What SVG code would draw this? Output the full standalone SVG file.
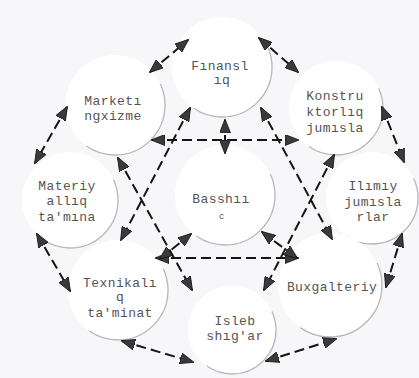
<svg xmlns="http://www.w3.org/2000/svg" width="419" height="378" viewBox="0 0 419 378">
<defs>
<style>
.bg{fill:#f7f7f9}
.node circle{fill:#ffffff;stroke:none}
.node .rim{fill:none;stroke:#b8b8bc;stroke-width:1.3;stroke-dasharray:150 210;stroke-dashoffset:25}
.node text{font-family:"Liberation Mono","DejaVu Sans Mono",monospace;font-size:13px;letter-spacing:0.4px;fill:#555555;text-anchor:middle}
.node text.mark{font-size:9px}
.edges line{stroke:#151515;stroke-width:2;stroke-dasharray:10 5;fill:none}
</style>
<marker id="ah" viewBox="0 0 14 11" refX="13" refY="5.5" markerWidth="14" markerHeight="11" markerUnits="userSpaceOnUse" orient="auto-start-reverse">
<path d="M0,0 L14,5.5 L0,11 z" fill="#3a3a3a" stroke="#111" stroke-width="0.8"/>
</marker>
</defs>
<rect class="bg" x="0" y="0" width="419" height="378"/>

<g id="finansliq" class="node">
<circle cx="222" cy="67" r="50"/>
<circle class="rim" cx="222" cy="67" r="50" pathLength="360"/>
<text x="220" y="70">Fınansl</text>
<text x="222" y="84">ıq</text>
</g>
<g id="marketing" class="node">
<circle cx="115" cy="105" r="50"/>
<circle class="rim" cx="115" cy="105" r="50" pathLength="360"/>
<text x="113" y="105">Marketı</text>
<text x="113" y="120">ngxizme</text>
</g>
<g id="konstruktorliq" class="node">
<circle cx="336" cy="108" r="47"/>
<circle class="rim" cx="336" cy="108" r="47" pathLength="360"/>
<text x="335" y="100">Konstru</text>
<text x="335" y="116">ktorlıq</text>
<text x="335" y="132">jumısla</text>
</g>
<g id="materiyalliq" class="node">
<circle cx="70" cy="200" r="48"/>
<circle class="rim" cx="70" cy="200" r="48" pathLength="360"/>
<text x="67" y="190">Materiy</text>
<text x="67" y="205">allıq</text>
<text x="67" y="221">ta'mına</text>
</g>
<g id="basshiliq" class="node">
<circle cx="225" cy="195" r="50"/>
<circle class="rim" cx="225" cy="195" r="50" pathLength="360"/>
<text x="221" y="203">Basshıı</text>
<text class="mark" x="222" y="219">c</text>
</g>
<g id="ilimiy" class="node">
<circle cx="372" cy="198" r="46"/>
<circle class="rim" cx="372" cy="198" r="46" pathLength="360"/>
<text x="373" y="190">Ilımıy</text>
<text x="373" y="206">jumısla</text>
<text x="373" y="221">rlar</text>
</g>
<g id="texnikaliq" class="node">
<circle cx="118" cy="290" r="50"/>
<circle class="rim" cx="118" cy="290" r="50" pathLength="360"/>
<text x="120" y="287">Texnikalı</text>
<text x="120" y="301">q</text>
<text x="120" y="317">ta'minat</text>
</g>
<g id="buxgalteriy" class="node">
<circle cx="330" cy="285" r="52"/>
<circle class="rim" cx="330" cy="285" r="52" pathLength="360"/>
<text x="332" y="291">Buxgalteriy</text>
</g>
<g id="islebshigar" class="node">
<circle cx="232" cy="330" r="44"/>
<circle class="rim" cx="232" cy="330" r="44" pathLength="360"/>
<text x="235" y="325">Isleb</text>
<text x="235" y="340">shıg'ar</text>
</g>

<g id="connectors" class="edges">
<line x1="150" y1="72" x2="188" y2="40" marker-start="url(#ah)" marker-end="url(#ah)"/>
<line x1="259" y1="38" x2="298" y2="72" marker-start="url(#ah)" marker-end="url(#ah)"/>
<line x1="67" y1="107" x2="35" y2="163" marker-start="url(#ah)" marker-end="url(#ah)"/>
<line x1="382" y1="107" x2="404" y2="162" marker-start="url(#ah)" marker-end="url(#ah)"/>
<line x1="37" y1="234" x2="70" y2="291" marker-start="url(#ah)" marker-end="url(#ah)"/>
<line x1="402" y1="234" x2="386" y2="287" marker-start="url(#ah)" marker-end="url(#ah)"/>
<line x1="122" y1="341" x2="193" y2="362" marker-start="url(#ah)" marker-end="url(#ah)"/>
<line x1="266" y1="361" x2="336" y2="339" marker-start="url(#ah)" marker-end="url(#ah)"/>
<line x1="152" y1="140" x2="298" y2="140" marker-start="url(#ah)" marker-end="url(#ah)"/>
<line x1="225" y1="120" x2="225" y2="153" marker-start="url(#ah)" marker-end="url(#ah)"/>
<line x1="156" y1="258" x2="298" y2="258" marker-start="url(#ah)" marker-end="url(#ah)"/>
<line x1="160" y1="259" x2="191" y2="234" marker-start="url(#ah)" marker-end="url(#ah)"/>
<line x1="262" y1="232" x2="297" y2="258" marker-start="url(#ah)" marker-end="url(#ah)"/>
<line x1="190" y1="108" x2="121" y2="240" marker-start="url(#ah)" marker-end="url(#ah)"/>
<line x1="118" y1="158" x2="192" y2="290" marker-start="url(#ah)" marker-end="url(#ah)"/>
<line x1="261" y1="108" x2="332" y2="239" marker-start="url(#ah)" marker-end="url(#ah)"/>
<line x1="334" y1="155" x2="264" y2="290" marker-start="url(#ah)" marker-end="url(#ah)"/>
</g>
</svg>
